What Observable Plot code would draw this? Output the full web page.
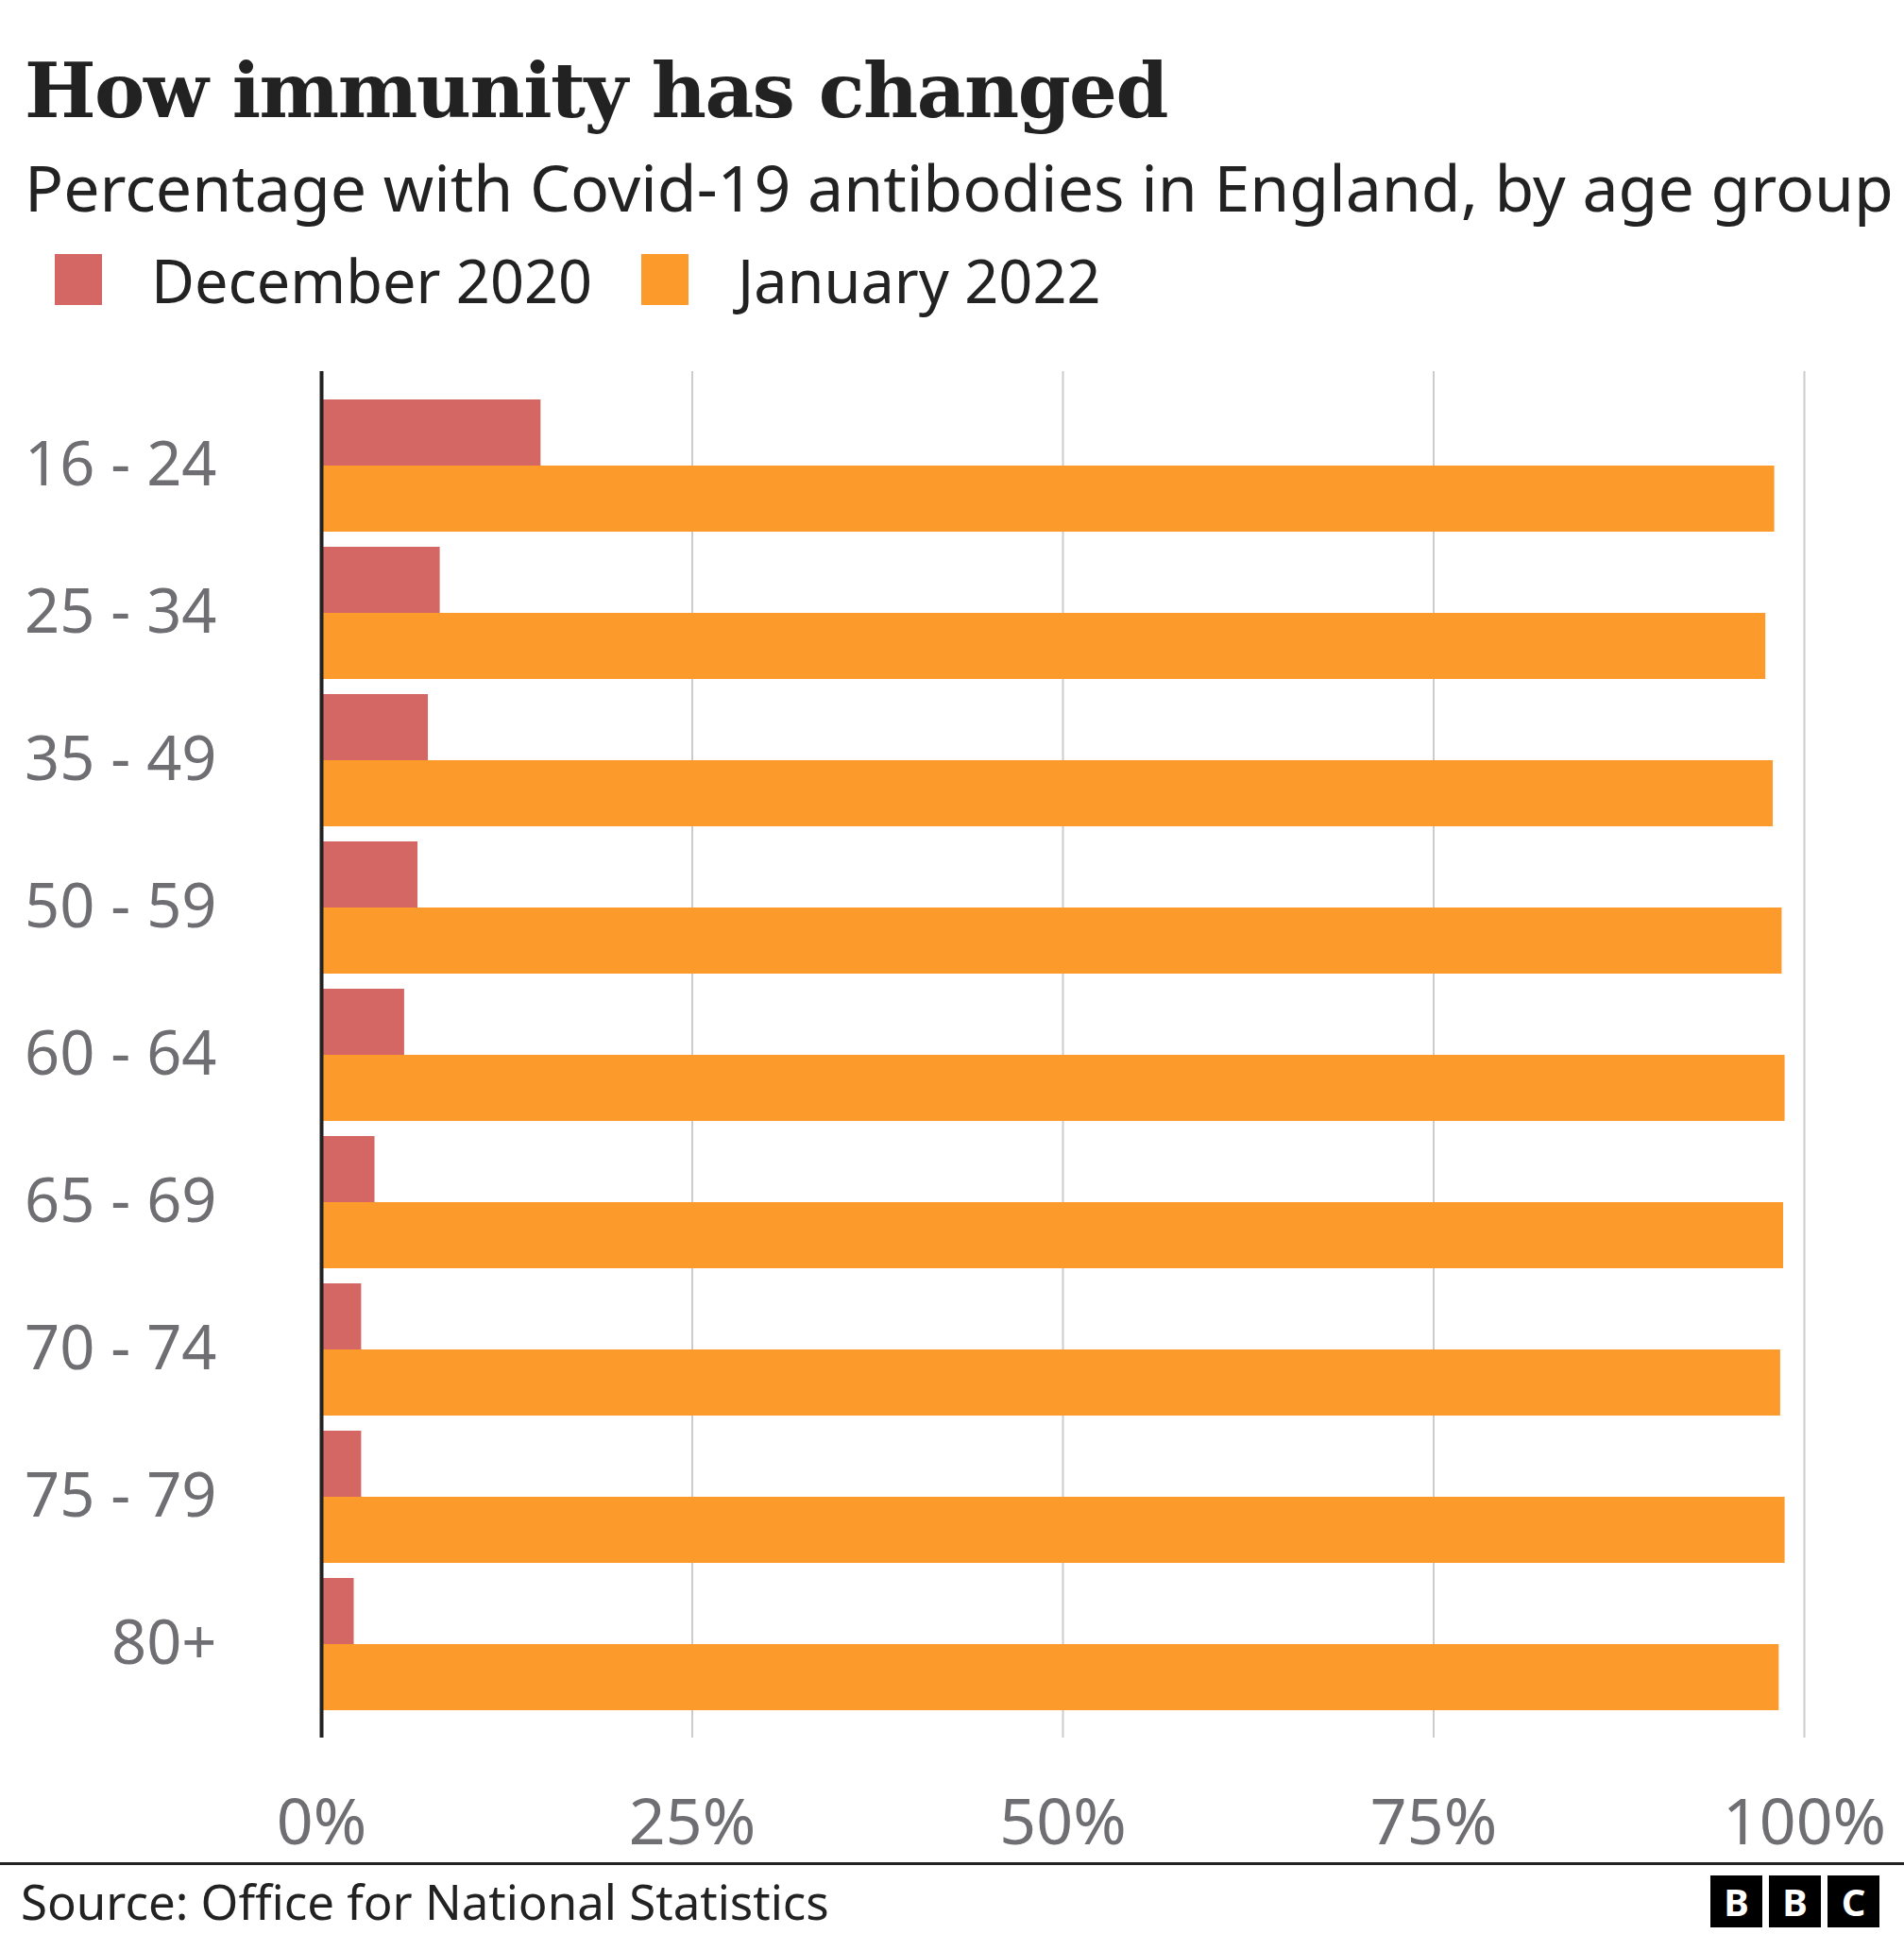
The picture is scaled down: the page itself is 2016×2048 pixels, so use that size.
<!DOCTYPE html>
<html>
<head>
<meta charset="utf-8">
<script src="https://cdn.jsdelivr.net/npm/d3@7"></script>
<script src="https://cdn.jsdelivr.net/npm/@observablehq/plot@0.6"></script>
<style>
  body { margin: 0; background: #fff; width: 2016px; font-family: "Noto Sans", sans-serif; color: #222; }
  h1 { margin: 0; padding: 48px 0 0 26px; font-family: "DejaVu Serif", serif; font-weight: bold; font-size: 80px; line-height: 96px; color: #222; letter-spacing: -1.5px; }
  .sub { padding: 12px 0 0 26px; font-size: 68px; line-height: 84px; color: #222; white-space: nowrap; }
  .legend { display: flex; align-items: center; padding: 16px 0 0 58px; font-size: 63px; height: 80px; }
  .legend span.sw { width: 50px; height: 54px; display: inline-block; margin-right: 52px; }
  .legend span.lab { margin-right: 52px; }
  .foot { border-top: 3px solid #222; height: 76px; display: flex; align-items: center; justify-content: space-between; padding: 0 26px 0 22px; font-size: 51px; }
  .bbc { display: flex; gap: 7px; }
  .bbc b { width: 55px; height: 55px; background: #000; color: #fff; display: flex; align-items: center; justify-content: center; font-size: 40px; font-family: "Noto Sans", sans-serif; }
</style>
</head>
<body>
<h1>How immunity has changed</h1>
<div class="sub">Percentage with Covid-19 antibodies in England, by age group</div>
<div class="legend">
  <span class="sw" style="background:#d46763"></span><span class="lab">December 2020</span>
  <span class="sw" style="background:#fd9a2c"></span><span class="lab">January 2022</span>
</div>
<div id="chart"></div>
<div class="foot"><span>Source: Office for National Statistics</span><span class="bbc"><b>B</b><b>B</b><b>C</b></span></div>
<script>
const ages = ["16 - 24", "25 - 34", "35 - 49", "50 - 59", "60 - 64", "65 - 69", "70 - 74", "75 - 79", "80+"];
const dec2020 = [14.8, 8.0, 7.2, 6.5, 5.6, 3.6, 2.7, 2.7, 2.2];
const jan2022 = [98.0, 97.4, 97.9, 98.5, 98.7, 98.6, 98.4, 98.7, 98.3];
const seriesNames = ["December 2020", "January 2022"];
const colors = ["#d46763", "#fd9a2c"];

const data = ages.flatMap((a, i) => [
  {age: a, series: seriesNames[0], key: a + "|0", value: dec2020[i]},
  {age: a, series: seriesNames[1], key: a + "|1", value: jan2022[i]}
]);
const keys = data.map(d => d.key);

const chart = Plot.plot({
  width: 2016,
  height: 1636,
  marginTop: 57,
  marginBottom: 132,
  marginLeft: 340,
  marginRight: 106,
  style: {fontFamily: "Noto Sans", fontSize: "66px", color: "#6e6e73"},
  x: {domain: [0, 100]},
  y: {domain: keys, padding: 0, insetTop: 15, insetBottom: 15},
  color: {domain: seriesNames, range: colors},
  marks: [
    Plot.ruleX([25, 50, 75, 100], {stroke: "#cccccc", strokeWidth: 2}),
    Plot.barX(data.filter(d => d.series === seriesNames[0]), {x: "value", y: "key", fill: "series", insetTop: 8, insetBottom: 0}),
    Plot.barX(data.filter(d => d.series === seriesNames[1]), {x: "value", y: "key", fill: "series", insetTop: 0, insetBottom: 8}),
    Plot.ruleX([0], {stroke: "#222", strokeWidth: 4}),
    Plot.axisX({ticks: [0, 25, 50, 75, 100], tickFormat: d => d + "%", tickSize: 0, tickPadding: 64, label: null, fill: "#6e6e73", fontSize: 68}),
    Plot.axisY({ticks: keys.filter(k => k.endsWith("|0")), tickFormat: k => k.split("|")[0], tickSize: 0, tickPadding: 111, dy: 39, label: null, fill: "#6e6e73", fontSize: 65})
  ]
});
d3.select("#chart").append(() => chart);
</script>
</body>
</html>
